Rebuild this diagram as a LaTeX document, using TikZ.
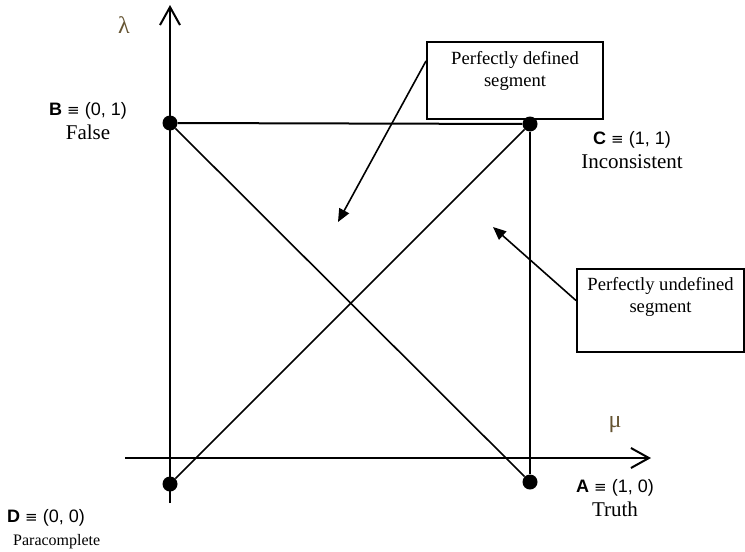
\documentclass[tikz,border=0pt]{standalone}
\usepackage{fontspec}
\setmainfont{Liberation Serif}
\setsansfont{Liberation Sans}
\newfontfamily\eqfont{DejaVu Sans}
\usetikzlibrary{arrows.meta, positioning}
\definecolor{greekbrown}{RGB}{102,85,51}
\newcommand{\ptname}[2]{{\sffamily\fontsize{18}{22}\selectfont\textbf{#1} {\eqfont\fontsize{15}{15}\selectfont ≡} #2}}

\begin{document}
\begin{tikzpicture}[
    x=1pt, y=-1pt,
    dot/.style={circle, fill=black, inner sep=0pt, minimum size=15pt},
    side/.style={line width=2pt},
    diag/.style={line width=1.6pt},
    axis/.style={line width=2pt, -{Straight Barb[length=18pt, width=20pt, line width=2pt]}},
    callout/.style={rectangle, draw, line width=2pt, inner sep=0pt},
    boxtext/.style={align=center, inner sep=0pt, font=\fontsize{18.6}{22}\selectfont},
    ptlabel/.style={align=center, inner sep=0pt, font=\fontsize{21}{24}\selectfont},
    greek/.style={text=greekbrown, inner sep=0pt, font=\fontsize{24}{24}\selectfont},
    arrow/.style={-{Triangle[length=13pt, width=11pt]}, line width=1.6pt}
]
\useasboundingbox (0,0) rectangle (745,552);

% corners of the square
\node[dot] (B) at (170,123) {};
\node[dot] (C) at (530,124) {};
\node[dot] (A) at (530,482) {};
\node[dot] (D) at (170,484) {};

% axes
\coordinate (lamtail) at (170,503);
\coordinate (lamtip) at (170,5);
\coordinate (mutail) at (125,458);
\coordinate (mutip) at (651,458);
\draw[axis] (lamtail) -- (lamtip);
\draw[axis] (mutail) -- (mutip);
\node[greek] (lam) at (124,25) {λ};
\node[greek] (mu) at (615,425) {μ};

\draw[side] (B) -- (C);
\draw[side] (C) -- (A);
\draw[diag] (B) -- (A);
\draw[diag] (D) -- (C);

\node[ptlabel] (Blabel) at (88,121) {\ptname{B}{(0, 1)}\\False};
\node[ptlabel] (Clabel) at (632,150) {\ptname{C}{(1, 1)}\\Inconsistent};
\node[ptlabel] (Alabel) at (615,498) {\ptname{A}{(1, 0)}\\Truth};
\node[ptlabel, align=left, anchor=west, font=\fontsize{16}{23}\selectfont] (Dlabel) at (7,529) {\ptname{D}{(0, 0)}\\\hspace*{6pt}Paracomplete};

% callouts
\node[callout, minimum width=176pt, minimum height=77pt] (defbox) at (515,80.5) {};
\node[boxtext, below=10pt of defbox.north] (deftext) {Perfectly defined\\segment};
\node[callout, minimum width=167pt, minimum height=83pt] (undefbox) at (660.5,310.5) {};
\node[boxtext, below=9pt of undefbox.north] (undeftext) {Perfectly undefined\\segment};

\coordinate (defpt) at (338,222);
\coordinate (undefpt) at (493,227);
\draw[arrow] ([yshift=-20pt]defbox.north west) -- (defpt);
\draw[arrow] ([yshift=10pt]undefbox.west) -- (undefpt);
\end{tikzpicture}
\end{document}
